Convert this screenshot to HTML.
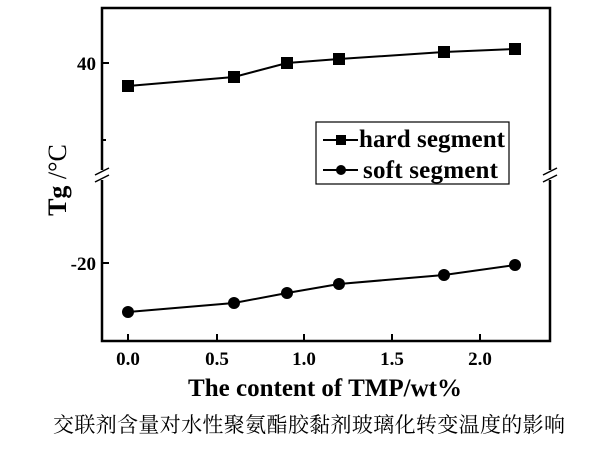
<!DOCTYPE html>
<html><head><style>body{margin:0;background:#fff}</style></head><body>
<svg width="600" height="451" xmlns="http://www.w3.org/2000/svg" font-family="Liberation Serif, serif">
<rect x="102" y="8" width="448" height="333" fill="none" stroke="#000" stroke-width="2.5"/>
<g stroke="#000" stroke-width="2">
<line x1="128" y1="341" x2="128" y2="334"/><line x1="217" y1="341" x2="217" y2="334"/>
<line x1="304" y1="341" x2="304" y2="334"/><line x1="392" y1="341" x2="392" y2="334"/>
<line x1="480" y1="341" x2="480" y2="334"/>
<line x1="102" y1="63" x2="109" y2="63"/><line x1="102" y1="263" x2="109" y2="263"/>
<line x1="102" y1="140" x2="106" y2="140"/>
</g>
<g stroke="#fff" stroke-width="5"><line x1="102" y1="170" x2="102" y2="180"/><line x1="550" y1="170" x2="550" y2="180"/></g>
<g stroke="#000" stroke-width="1.5">
<line x1="95" y1="175" x2="109" y2="168"/><line x1="95" y1="182" x2="109" y2="175"/>
<line x1="543" y1="175" x2="557" y2="168"/><line x1="543" y1="182" x2="557" y2="175"/>
</g>
<g font-weight="bold" font-size="19" text-anchor="middle">
<text x="128" y="365">0.0</text><text x="217" y="365">0.5</text><text x="304" y="365">1.0</text>
<text x="392" y="365">1.5</text><text x="480" y="365">2.0</text>
<text x="96" y="70" text-anchor="end">40</text><text x="96" y="270" text-anchor="end">-20</text>
</g>
<polyline points="128,86 234,77 287,63 339,59 444,52 515,49" fill="none" stroke="#000" stroke-width="2"/>
<g fill="#000"><rect x="122" y="80" width="12" height="12"/><rect x="228" y="71" width="12" height="12"/><rect x="281" y="57" width="12" height="12"/><rect x="333" y="53" width="12" height="12"/><rect x="438" y="46" width="12" height="12"/><rect x="509" y="43" width="12" height="12"/></g>
<polyline points="128,312 234,303 287,293 339,284 444,275 515,265" fill="none" stroke="#000" stroke-width="2"/>
<g fill="#000"><circle cx="128" cy="312" r="6"/><circle cx="234" cy="303" r="6"/><circle cx="287" cy="293" r="6"/><circle cx="339" cy="284" r="6"/><circle cx="444" cy="275" r="6"/><circle cx="515" cy="265" r="6"/></g>
<rect x="316" y="122" width="193" height="62" fill="#fff" stroke="#000" stroke-width="1.2"/>
<line x1="323" y1="140" x2="358" y2="140" stroke="#000" stroke-width="2"/><rect x="336" y="135" width="10" height="10"/>
<line x1="323" y1="170" x2="358" y2="170" stroke="#000" stroke-width="2"/><circle cx="341" cy="170" r="5"/>
<g font-weight="bold" font-size="25"><text x="359" y="147" textLength="146">hard segment</text><text x="363" y="178" textLength="135">soft segment</text></g>
<text transform="translate(66,180) rotate(-90)" font-size="26" text-anchor="middle"><tspan font-weight="bold">Tg</tspan> /°C</text>
<text x="325" y="396" font-weight="bold" font-size="25" text-anchor="middle" textLength="274">The content of TMP/wt%</text>
<text x="309" y="432" font-size="21" text-anchor="middle" textLength="512" font-family="Liberation Serif, Noto Serif CJK SC, serif">交联剂含量对水性聚氨酯胶黏剂玻璃化转变温度的影响</text>
</svg>
</body></html>
